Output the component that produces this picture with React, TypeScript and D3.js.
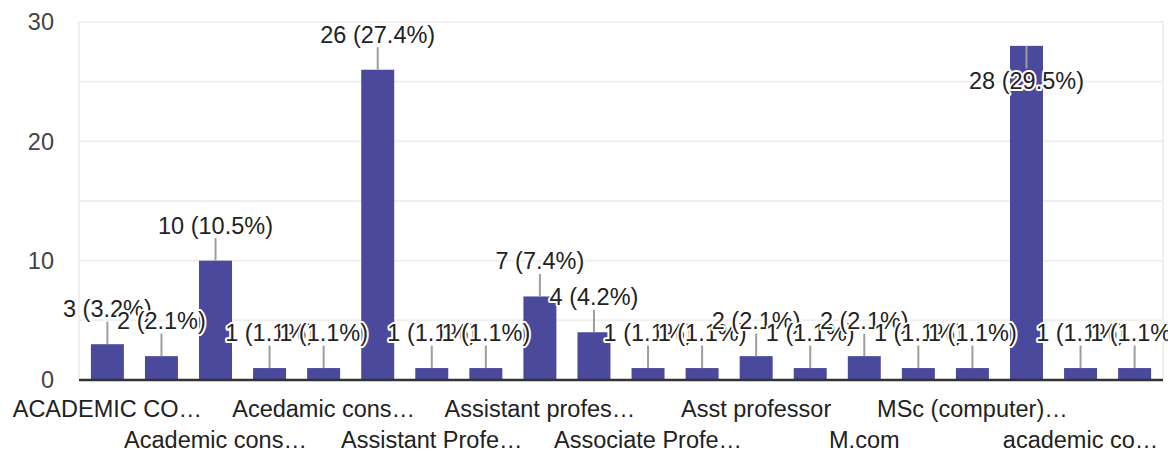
import React from 'react';
import * as d3 from 'd3';

// Response categories (ASCII-sorted, as the form summary shows them)
const categories = [
  'ACADEMIC CO…', 'Academic Consultant', 'Academic cons…', 'Academic counsellor',
  'Acedamic cons…', 'Assistant Professor', 'Assistant Profe…', 'Assistant Professor,',
  'Assistant profes…', 'Assistant professor ', 'Associate Profe…', 'Associate professor',
  'Asst professor', 'Lecturer', 'M.com', 'MCA', 'MSc (computer)…', 'Student',
  'academic co…', 'assistant professor',
];
const counts = [3, 2, 10, 1, 1, 26, 1, 1, 7, 4, 1, 1, 2, 1, 2, 1, 1, 28, 1, 1];
const yTicks = [0, 10, 20, 30];
const gridTicks = [0, 5, 10, 15, 20, 25, 30];

const width = 1168;
const height = 454;
const margin = { top: 22, right: 5, bottom: 74, left: 79 };
const FONT = '"Liberation Sans", Arial, sans-serif';

const App: React.FC = () => {
  const total = d3.sum(counts);

  const x = d3.scaleBand<string>()
    .domain(categories)
    .range([margin.left, width - margin.right])
    .paddingInner(0.39)
    .paddingOuter(0.22);

  const y = d3.scaleLinear()
    .domain([0, 30])
    .range([height - margin.bottom, margin.top]);

  const stem = 22.5;

  return (
    <div style={{ position: 'absolute', left: 0, top: 0 }}>
      <svg width={width} height={height} style={{ display: 'block', fontFamily: FONT }}>
        <rect x={0} y={0} width={width} height={height} fill="#fff" />

        {/* gridlines + frame */}
        {gridTicks.map(t => (
          <line key={t} x1={margin.left} x2={width - margin.right} y1={y(t)} y2={y(t)}
            stroke="#efefef" strokeWidth={2} />
        ))}
        <line x1={margin.left} x2={margin.left} y1={y(30)} y2={y(0)} stroke="#efefef" strokeWidth={2} />
        <line x1={width - margin.right} x2={width - margin.right} y1={y(30)} y2={y(0)} stroke="#efefef" strokeWidth={2} />

        {/* y tick labels */}
        {yTicks.map(t => (
          <text key={t} x={54} y={y(t)} dy="0.36em" textAnchor="end" fontSize={23.5} fill="#444">{t}</text>
        ))}

        {/* bars */}
        {categories.map((c, i) => (
          <rect key={c} x={x(c)} y={y(counts[i])} width={x.bandwidth()} height={y(0) - y(counts[i])}
            fill="#4a499b" />
        ))}

        <line x1={margin.left} x2={width - margin.right} y1={y(0)} y2={y(0)} stroke="#333" strokeWidth={2.5} />

        {/* annotations with leader lines */}
        {categories.map((c, i) => {
          const cx = (x(c) as number) + x.bandwidth() / 2;
          const top = y(counts[i]);
          const below = top - 27 - 17 < margin.top;
          const label = `${counts[i]} (${d3.format('.1f')((counts[i] / total) * 100)}%)`;
          return (
            <g key={c}>
              <line x1={cx} x2={cx} y1={top} y2={below ? top + stem : top - stem}
                stroke="#9e9e9e" strokeWidth={2} />
              <text x={cx} y={below ? top + 43 : top - 27} textAnchor="middle" fontSize={23.5}
                fill="#222" stroke="#fff" strokeWidth={4} strokeLinejoin="round"
                style={{ paintOrder: 'stroke' }}>{label}</text>
            </g>
          );
        })}

        {/* category labels, every other one, alternating rows */}
        {categories.map((c, i) => i % 2 === 0 ? (
          <text key={c} x={(x(c) as number) + x.bandwidth() / 2} y={(i / 2) % 2 === 0 ? 416.5 : 448}
            textAnchor="middle" fontSize={23.5} fill="#222">{c}</text>
        ) : null)}
      </svg>
    </div>
  );
};

export default App;
